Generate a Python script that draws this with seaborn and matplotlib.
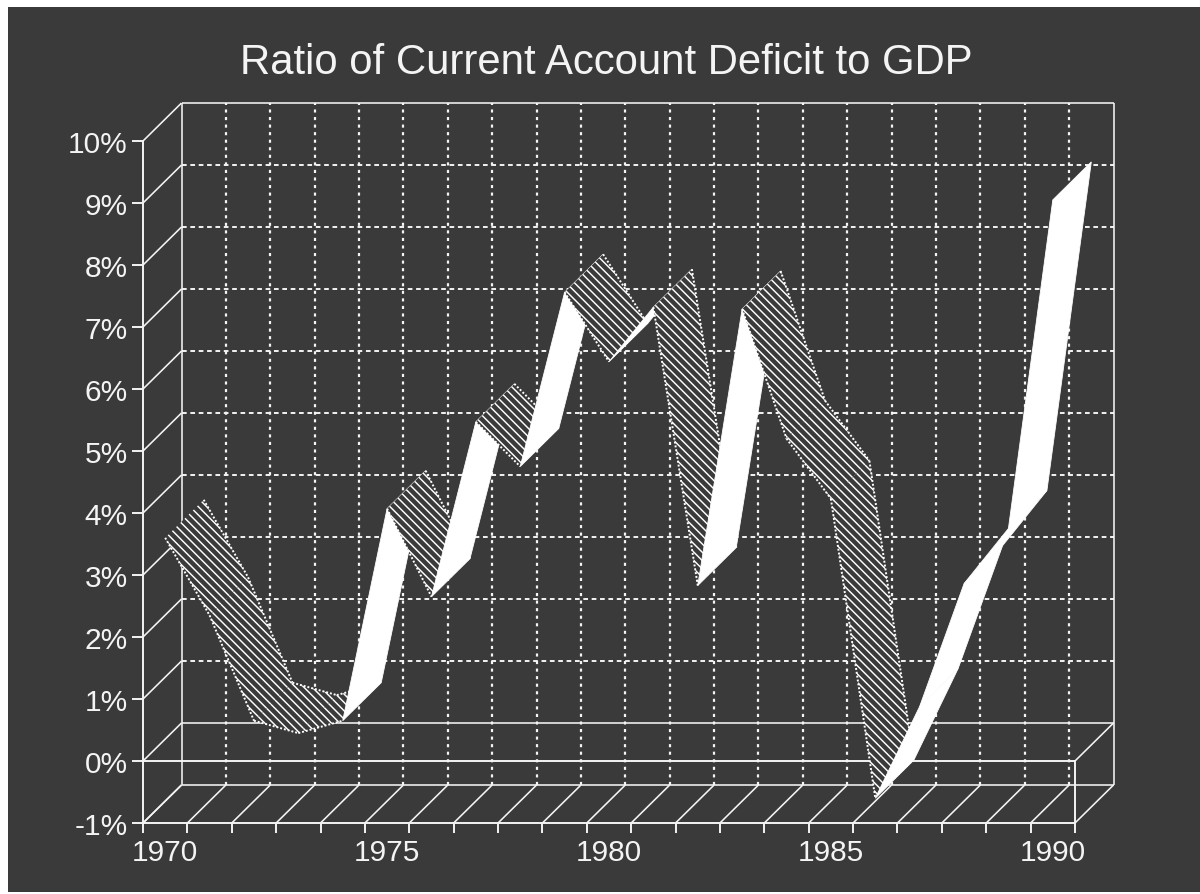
import matplotlib
matplotlib.use("Agg")
import matplotlib.pyplot as plt
from matplotlib.patches import Rectangle
import numpy as np
import seaborn as sns

# Current account deficit as a share of GDP, in percent
years = list(range(1970, 1991))
deficit_pct = [3.60, 2.35, 0.65, 0.45, 0.65, 4.07, 2.65, 5.47, 4.75, 7.56, 6.44,
               7.32, 2.83, 7.29, 5.20, 4.23, -0.60, 0.88, 2.86, 3.75, 9.05]
pct_ticks = list(range(-1, 11))
year_labels = [1970, 1975, 1980, 1985, 1990]

BG = "#3a3a3a"
INK = "#f4f4f4"

sns.set_theme(style="dark", rc={
    "figure.facecolor": "white",
    "axes.facecolor": "none",
    "hatch.linewidth": 1.05,
    "lines.solid_capstyle": "butt",
})
plt.rcParams["font.family"] = ["Liberation Sans", "DejaVu Sans"]

W, H = 1200, 895
fig = plt.figure(figsize=(W / 100, H / 100), dpi=100)
fig.patches.append(Rectangle((8 / W, 2 / H), 1 - 8 / W, 1 - 10 / H, zorder=-5,
                             transform=fig.transFigure, facecolor=BG, edgecolor="none"))

# Axes rectangle is the front plane of the box
ax = fig.add_axes([143 / W, 1 - 824 / H, 932 / W, 682 / H])
ax.set_xlim(1969.5, 1990.5)
ax.set_ylim(-1, 10)

# Oblique depth vector of the box, in data units
DEPTH_X = 38.5 / (932 / 21)
DEPTH_Y = 38.0 / (682 / 11)

x_lo, x_hi = 1969.5, 1990.5
solid = dict(color=INK, lw=1.15, clip_on=False, zorder=1)
dashed_h = dict(color=INK, lw=1.4, clip_on=False, zorder=1, linestyle=(0, (2.4, 1.9)))
dashed_v = dict(color=INK, lw=1.6, clip_on=False, zorder=1, linestyle=(0, (1.4, 2.0)))

# Back wall: dashed grid with a solid frame
for p in pct_ticks:
    style = solid if p in (-1, 0, 10) else dashed_h
    ax.plot([x_lo + DEPTH_X, x_hi + DEPTH_X], [p + DEPTH_Y] * 2, **style)
for k in range(1, 21):
    gx = x_lo + k + DEPTH_X
    ax.plot([gx, gx], [-1 + DEPTH_Y, 10 + DEPTH_Y], **dashed_v)
for gx in (x_lo + DEPTH_X, x_hi + DEPTH_X):
    ax.plot([gx, gx], [-1 + DEPTH_Y, 10 + DEPTH_Y], **solid)

# Side wall and floor receding lines
for p in pct_ticks:
    ax.plot([x_lo, x_lo + DEPTH_X], [p, p + DEPTH_Y], **solid)
for k in range(22):
    ax.plot([x_lo + k, x_lo + k + DEPTH_X], [-1, -1 + DEPTH_Y], **solid)
ax.plot([x_hi, x_hi + DEPTH_X], [0, DEPTH_Y], **solid)

# Zero plane across the front
ax.plot([x_lo, x_hi], [0, 0], color=INK, lw=1.4, clip_on=False, zorder=1)

# Ribbon, painted left to right so later faces overlap earlier ones
for i in range(len(years) - 1):
    x0, x1 = years[i], years[i + 1]
    y0, y1 = deficit_pct[i], deficit_pct[i + 1]
    qx = [x0, x1, x1 + DEPTH_X, x0 + DEPTH_X]
    qy = [y0, y1, y1 + DEPTH_Y, y0 + DEPTH_Y]
    z = 3 + i
    underside = (y1 - y0) > DEPTH_Y / DEPTH_X
    if underside:
        ax.fill(qx, qy, facecolor="white", edgecolor="white", lw=0.6, clip_on=False, zorder=z)
    else:
        ax.fill(qx, qy, facecolor=BG, edgecolor="white", hatch="\\" * 4, lw=0, clip_on=False, zorder=z)
        sns.lineplot(x=[x0, x1], y=[y0, y1], ax=ax, color="white", lw=1.4, estimator=None,
                     linestyle=(0, (1, 1)), clip_on=False, zorder=z + 0.5)
        sns.lineplot(x=[x0 + DEPTH_X, x1 + DEPTH_X], y=[y0 + DEPTH_Y, y1 + DEPTH_Y], ax=ax,
                     color="white", lw=1.4, estimator=None, linestyle=(0, (1, 1)),
                     clip_on=False, zorder=z + 0.5)

# Axes frame and ticks
for side, spine in ax.spines.items():
    spine.set_color(INK)
    spine.set_linewidth(1.4)
    spine.set_visible(side in ("left", "bottom", "right"))
ax.spines["right"].set_bounds(-1, 0)
ax.grid(False)

ax.set_yticks(pct_ticks)
ax.set_yticklabels([f"{p}%" for p in pct_ticks], fontsize=21.5, color=INK)
ax.tick_params(axis="y", left=True, length=8, width=1.4, color=INK, pad=3)

ax.set_xticks(year_labels)
ax.set_xticklabels([str(y) for y in year_labels], fontsize=21.5, color=INK)
ax.set_xticks(np.arange(1969.5, 1991), minor=True)
ax.tick_params(axis="x", which="major", bottom=False, length=0, pad=11)
ax.tick_params(axis="x", which="minor", bottom=True, length=7, width=1.4, color=INK)

fig.text(606 / W, 1 - 63 / H, "Ratio of Current Account Deficit to GDP",
         fontsize=30.2, color=INK, ha="center", va="center")

fig.savefig("out.png", dpi=100, facecolor="white")
